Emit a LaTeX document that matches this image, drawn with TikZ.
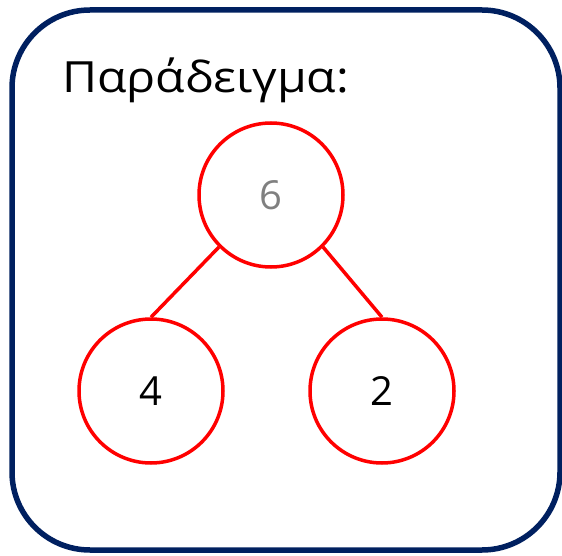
\documentclass[tikz,border=0pt]{standalone}
\usepackage{fontspec}
\setmainfont{Open Sans}
\newfontfamily\titlefont[FakeStretch=1.12]{Open Sans}
\definecolor{navy}{HTML}{002060}
\definecolor{numgray}{HTML}{808080}
\begin{document}
\begin{tikzpicture}[x=1pt,y=-1pt,
  frame/.style={draw=navy,line width=5.5pt,rounded corners=78pt},
  num/.style={circle,draw=red,line width=3.5pt,minimum size=144pt,inner sep=0pt,font=\fontsize{40}{42}\selectfont},
  link/.style={draw=red,line width=3.5pt}]
\useasboundingbox (0,0) rectangle (562,556);
\draw[frame] (12,10) rectangle (560,550);
\node[anchor=base west,inner sep=0pt,font=\titlefont\fontsize{43}{46}\selectfont] (title) at (62,93) {Παράδειγμα:};
\node[num,text=numgray] (top) at (271,195) {6};
\node[num] (left) at (151,391) {4};
\node[num] (right) at (382,391) {2};
\draw[link] (top.south west) -- (left.north);
\draw[link] (top.south east) -- (right.north);
\end{tikzpicture}
\end{document}
